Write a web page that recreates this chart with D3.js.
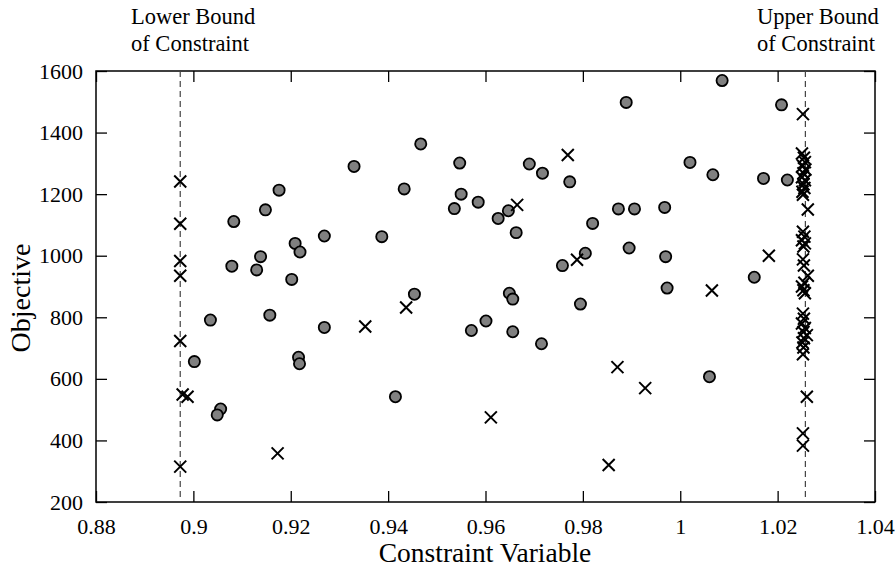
<!DOCTYPE html>
<html>
<head>
<meta charset="utf-8">
<script src="https://cdn.jsdelivr.net/npm/d3@7"></script>
<style>
  body { margin: 0; background: #fff; }
  text { font-family: "Liberation Serif", "Times New Roman", serif; fill: #000; }
</style>
</head>
<body>
<svg id="chart" width="896" height="572"></svg>
<script>
// tick values
var xTicks = [0.88, 0.9, 0.92, 0.94, 0.96, 0.98, 1, 1.02, 1.04];
var yTicks = [200, 400, 600, 800, 1000, 1200, 1400, 1600];

// constraint bounds
var lowerBound = 0.8973;
var upperBound = 1.0257;

// feasible runs (circles): [constraint, objective]
var circlePoints = [
  [0.9176, 1213], [0.9148, 1149], [0.9083, 1111], [0.9269, 1064], [0.9209, 1040],
  [0.9219, 1012], [0.9138, 997], [0.9079, 966], [0.9130, 954], [0.9202, 923],
  [0.9157, 807], [0.9035, 791], [0.9269, 767], [0.9216, 670], [0.9218, 649],
  [0.9002, 656], [0.9056, 502], [0.9049, 483],
  [0.9467, 1363], [0.9330, 1290], [0.9547, 1301], [0.9690, 1298], [0.9717, 1268],
  [0.9773, 1240], [0.9433, 1217], [0.9550, 1200], [0.9536, 1153], [0.9585, 1174],
  [0.9647, 1146], [0.9626, 1121], [0.9663, 1075], [0.9820, 1105], [0.9387, 1062],
  [0.9805, 1008], [0.9758, 968], [0.9454, 875], [0.9649, 878], [0.9656, 859],
  [0.9795, 843], [0.9571, 757], [0.9601, 788], [0.9656, 753], [0.9715, 714],
  [0.9415, 542],
  [1.0086, 1569], [0.9889, 1498], [1.0208, 1490], [1.0020, 1303], [1.0067, 1263],
  [1.0171, 1251], [1.0220, 1246], [0.9873, 1152], [0.9906, 1152], [0.9968, 1157],
  [0.9895, 1025], [0.9970, 997], [1.0152, 930], [0.9973, 895], [1.0060, 607]
];

// infeasible / bound runs (crosses): [constraint, objective]
var crossPoints = [
  [0.8973, 1241], [0.8973, 1104], [0.8973, 983], [0.8973, 935], [0.8973, 723],
  [0.8978, 549], [0.8988, 542], [0.8973, 315],
  [0.9173, 358], [0.9353, 770], [0.9437, 832], [0.9611, 475], [0.9665, 1165],
  [0.9769, 1327], [0.9788, 987], [0.9853, 320], [0.9871, 638], [0.9928, 570],
  [1.0065, 887], [1.0182, 1000],
  [1.0252, 1460], [1.0250, 1332], [1.0254, 1318], [1.0256, 1304], [1.0252, 1292],
  [1.0257, 1280], [1.0253, 1268], [1.0250, 1255], [1.0256, 1245], [1.0253, 1232],
  [1.0255, 1220], [1.0251, 1208], [1.0252, 1198],
  [1.0262, 1150], [1.0252, 1078], [1.0255, 1062], [1.0250, 1050], [1.0256, 1040],
  [1.0253, 1030], [1.0252, 988], [1.0254, 968], [1.0262, 935], [1.0255, 912],
  [1.0250, 900], [1.0253, 888], [1.0256, 878], [1.0252, 812], [1.0254, 795],
  [1.0250, 780], [1.0256, 765], [1.0253, 752], [1.0260, 742], [1.0254, 732],
  [1.0251, 718], [1.0253, 702], [1.0252, 680], [1.0260, 542], [1.0252, 423],
  [1.0252, 383]
];

(function() {
  var plotLeft = 96, plotRight = 875, plotTop = 71, plotBottom = 502;
  var svg = d3.select('#chart');

  var x = d3.scaleLinear().domain([0.88, 1.04]).range([plotLeft, plotRight]);
  var y = d3.scaleLinear().domain([200, 1600]).range([plotBottom, plotTop]);

  var fmt = function(d) { return String(+d.toFixed(2)); };
  var tickLen = 11;

  // axes with inward ticks, mirrored on top / right
  function styleAxis(g) {
    g.select('.domain').remove();
    g.selectAll('.tick line').attr('stroke', '#000').attr('stroke-width', 1.3);
    g.selectAll('.tick text').style('font-size', '22px');
  }

  svg.append('g').attr('transform', 'translate(0,' + plotBottom + ')')
    .call(d3.axisBottom(x).tickValues(xTicks).tickFormat(fmt).tickSizeInner(-tickLen).tickSizeOuter(0).tickPadding(16))
    .call(styleAxis);
  svg.append('g').attr('transform', 'translate(0,' + plotTop + ')')
    .call(d3.axisTop(x).tickValues(xTicks).tickFormat('').tickSizeInner(-tickLen).tickSizeOuter(0))
    .call(styleAxis);
  svg.append('g').attr('transform', 'translate(' + plotLeft + ',0)')
    .call(d3.axisLeft(y).tickValues(yTicks).tickFormat(d3.format('d')).tickSizeInner(-tickLen).tickSizeOuter(0).tickPadding(13))
    .call(styleAxis);
  svg.append('g').attr('transform', 'translate(' + plotRight + ',0)')
    .call(d3.axisRight(y).tickValues(yTicks).tickFormat('').tickSizeInner(-tickLen).tickSizeOuter(0))
    .call(styleAxis);

  // frame
  svg.append('rect')
    .attr('x', plotLeft).attr('y', plotTop)
    .attr('width', plotRight - plotLeft).attr('height', plotBottom - plotTop)
    .attr('fill', 'none').attr('stroke', '#000').attr('stroke-width', 1.5);

  // bound lines
  [lowerBound, upperBound].forEach(function(b) {
    svg.append('line')
      .attr('x1', x(b)).attr('x2', x(b))
      .attr('y1', plotTop).attr('y2', plotBottom)
      .attr('stroke', '#444').attr('stroke-width', 1.2)
      .attr('stroke-dasharray', '6,4');
  });

  // circles
  svg.append('g').selectAll('circle')
    .data(circlePoints)
    .enter().append('circle')
    .attr('cx', function(d) { return x(d[0]); })
    .attr('cy', function(d) { return y(d[1]); })
    .attr('r', 5.6)
    .attr('fill', '#808080')
    .attr('stroke', '#000')
    .attr('stroke-width', 1.8);

  // crosses
  var s = 6;
  svg.append('g').selectAll('path')
    .data(crossPoints)
    .enter().append('path')
    .attr('d', function(d) {
      var cx = x(d[0]), cy = y(d[1]);
      return 'M' + (cx - s) + ',' + (cy - s) + 'L' + (cx + s) + ',' + (cy + s) +
             'M' + (cx - s) + ',' + (cy + s) + 'L' + (cx + s) + ',' + (cy - s);
    })
    .attr('fill', 'none')
    .attr('stroke', '#000')
    .attr('stroke-width', 2);

  // annotations
  var notes = [
    { x: 131, lines: ['Lower Bound', 'of Constraint'] },
    { x: 757, lines: ['Upper Bound', 'of Constraint'] }
  ];
  notes.forEach(function(n) {
    n.lines.forEach(function(t, i) {
      svg.append('text')
        .attr('x', n.x).attr('y', 24 + i * 27)
        .style('font-size', '22.5px')
        .text(t);
    });
  });

  // axis titles
  svg.append('text')
    .attr('x', 485).attr('y', 562)
    .attr('text-anchor', 'middle')
    .style('font-size', '27.5px')
    .text('Constraint Variable');
  svg.append('text')
    .attr('transform', 'translate(30,298) rotate(-90)')
    .attr('text-anchor', 'middle')
    .style('font-size', '28px')
    .text('Objective');
})();
</script>
</body>
</html>
